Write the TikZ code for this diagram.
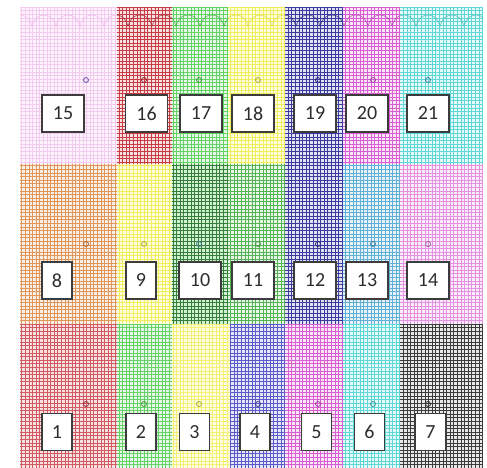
\documentclass[tikz,border=0pt]{standalone}
\usepackage{fontspec}
\setmainfont{Carlito}
\usepackage{tikz}
\usetikzlibrary{positioning}
\definecolor{meshpink}{RGB}{240,185,235}
\definecolor{meshred}{RGB}{200,60,70}
\definecolor{meshgreen}{RGB}{100,210,100}
\definecolor{meshyellow}{RGB}{240,238,90}
\definecolor{meshblue}{RGB}{60,60,160}
\definecolor{meshmagenta}{RGB}{215,95,210}
\definecolor{meshcyan}{RGB}{95,215,215}
\definecolor{meshorange}{RGB}{225,150,90}
\definecolor{meshdkgreen}{RGB}{55,125,60}
\definecolor{meshsteel}{RGB}{95,175,215}
\definecolor{meshorchid}{RGB}{228,145,228}
\definecolor{meshindigo}{RGB}{90,90,200}
\definecolor{meshgray}{RGB}{60,60,60}
\definecolor{boxgray}{RGB}{60,60,60}
\definecolor{numgray}{RGB}{45,45,45}

% V-shaped scallops along the top edge of a panel
\newcommand{\vwave}[3]{%
  \begin{scope}
    \clip (#2,7) rectangle (#3,40);
    \draw[#1, line width=0.8pt, opacity=0.7] \foreach \t in {0,24,...,480}
      {(\t-4,15) .. controls (\t+2,15) and (\t+6,19) .. (\t+8,26)
       .. controls (\t+10,19) and (\t+14,15) .. (\t+20,15)};
  \end{scope}}

\begin{document}
\begin{tikzpicture}[x=1pt, y=-1pt,
  mesh/.style={draw=#1, line width=0.6pt, step=3.6pt},
  tint/.style={fill=#1!15!white},
  numbox/.style={draw=boxgray, line width=1.1pt, fill=white, inner sep=0pt,
    minimum width=#1pt, minimum height=37pt, text=numgray,
    font=\fontsize{20}{24}\selectfont},
  numbox/.default=30,
  knot/.style={circle, draw=#1!70!black, line width=0.8pt, minimum size=5pt, inner sep=0pt}]

\useasboundingbox[fill=white] (0,0) rectangle (487,468);

% top row
\fill[tint=meshpink] (20,7) rectangle (117,164);
\draw[mesh=meshpink!75!white] (20,7) grid (117,164);
\fill[tint=meshred] (117,7) rectangle (172,164);
\draw[mesh=meshred] (117,7) grid (172,164);
\fill[tint=meshgreen] (172,7) rectangle (228,164);
\draw[mesh=meshgreen] (172,7) grid (228,164);
\fill[tint=meshyellow] (228,7) rectangle (285,164);
\draw[mesh=meshyellow] (228,7) grid (285,164);
\fill[tint=meshblue] (285,7) rectangle (343,164);
\draw[mesh=meshblue] (285,7) grid (343,164);
\fill[tint=meshmagenta] (343,7) rectangle (400,164);
\draw[mesh=meshmagenta] (343,7) grid (400,164);
\fill[tint=meshcyan] (400,7) rectangle (483,164);
\draw[mesh=meshcyan] (400,7) grid (483,164);

% middle row
\fill[tint=meshorange] (20,164) rectangle (117,324);
\draw[mesh=meshorange] (20,164) grid (117,324);
\fill[tint=meshyellow] (117,164) rectangle (172,324);
\draw[mesh=meshyellow] (117,164) grid (172,324);
\fill[fill=meshgreen!30!white] (172,164) rectangle (228,324);
\draw[mesh=meshdkgreen] (172,164) grid (228,324);
\fill[tint=meshgreen] (228,164) rectangle (285,324);
\draw[mesh=meshgreen!85!black] (228,164) grid (285,324);
\fill[tint=meshblue] (285,164) rectangle (343,324);
\draw[mesh=meshblue] (285,164) grid (343,324);
\fill[tint=meshsteel] (343,164) rectangle (400,324);
\draw[mesh=meshsteel] (343,164) grid (400,324);
\fill[tint=meshorchid] (400,164) rectangle (483,324);
\draw[mesh=meshorchid] (400,164) grid (483,324);

% bottom row
\fill[tint=meshred] (20,324) rectangle (117,468);
\draw[mesh=meshred!85!white] (20,324) grid (117,468);
\fill[tint=meshgreen] (117,324) rectangle (172,468);
\draw[mesh=meshgreen] (117,324) grid (172,468);
\fill[tint=meshyellow] (172,324) rectangle (230,468);
\draw[mesh=meshyellow!85!white] (172,324) grid (230,468);
\fill[tint=meshindigo] (230,324) rectangle (285,468);
\draw[mesh=meshindigo] (230,324) grid (285,468);
\fill[tint=meshmagenta] (285,324) rectangle (343,468);
\draw[mesh=meshmagenta] (285,324) grid (343,468);
\fill[tint=meshcyan] (343,324) rectangle (400,468);
\draw[mesh=meshcyan] (343,324) grid (400,468);
\fill[fill=meshgray!12!white] (400,324) rectangle (483,468);
\draw[mesh=meshgray] (400,324) grid (483,468);

% scallops along the top
\vwave{meshpink}{20}{117}
\vwave{meshred!80!black}{117}{172}
\vwave{meshgreen!80!black}{172}{228}
\vwave{meshyellow!90!black}{228}{285}
\vwave{meshblue!80!black}{285}{343}
\vwave{meshmagenta!80!black}{343}{400}
\vwave{meshcyan!85!black}{400}{483}

% small rings
\node[knot=meshpink!60!blue] (k15) at (86,80) {};
\node[knot=meshred] (k16) at (144,80) {};
\node[knot=meshgreen] (k17) at (199,80) {};
\node[knot=meshyellow] (k18) at (258,80) {};
\node[knot=meshblue] (k19) at (318,80) {};
\node[knot=meshmagenta] (k20) at (373,80) {};
\node[knot=meshsteel] (k21) at (428,80) {};
\node[knot=meshorange] (k8) at (86,244) {};
\node[knot=meshyellow] (k9) at (144,244) {};
\node[knot=meshsteel] (k10) at (199,244) {};
\node[knot=meshgreen] (k11) at (258,244) {};
\node[knot=meshblue] (k12) at (318,244) {};
\node[knot=meshsteel] (k13) at (373,244) {};
\node[knot=meshorchid] (k14) at (428,244) {};
\node[knot=meshred] (k1) at (86,404) {};
\node[knot=meshgreen] (k2) at (144,404) {};
\node[knot=meshyellow] (k3) at (199,404) {};
\node[knot=meshindigo] (k4) at (258,404) {};
\node[knot=meshmagenta] (k5) at (318,404) {};
\node[knot=meshcyan] (k6) at (373,404) {};
\node[knot=meshgray] (k7) at (428,404) {};

% numbered boxes
\node[numbox=42] (p15) at (63,113.5) {15};
\node[numbox=42] (p16) at (146.5,113.5) {16};
\node[numbox=42] (p17) at (201,113.5) {17};
\node[numbox=42] (p18) at (253,113.5) {18};
\node[numbox=42] (p19) at (315,113.5) {19};
\node[numbox=42] (p20) at (367,113.5) {20};
\node[numbox=42] (p21) at (428,113.5) {21};
\node[numbox] (p8) at (57,280.5) {8};
\node[numbox] (p9) at (141,280.5) {9};
\node[numbox=42] (p10) at (200,280.5) {10};
\node[numbox=42] (p11) at (253,280.5) {11};
\node[numbox=42] (p12) at (315,280.5) {12};
\node[numbox=42] (p13) at (367,280.5) {13};
\node[numbox=42] (p14) at (428,280.5) {14};
\node[numbox] (p1) at (57,432) {1};
\node[numbox] (p2) at (141,432) {2};
\node[numbox] (p3) at (194.5,432) {3};
\node[numbox] (p4) at (255,432) {4};
\node[numbox] (p5) at (316.5,432) {5};
\node[numbox] (p6) at (369.5,432) {6};
\node[numbox] (p7) at (430.5,432) {7};

\end{tikzpicture}
\end{document}
